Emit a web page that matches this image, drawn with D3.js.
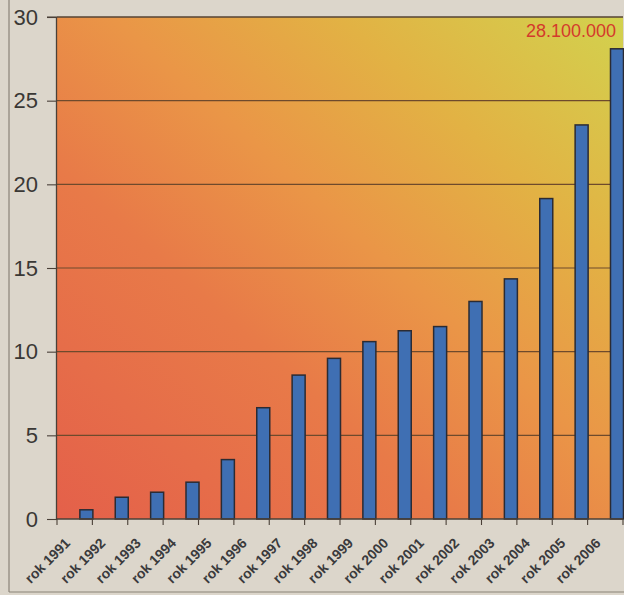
<!DOCTYPE html>
<html><head><meta charset="utf-8">
<script src="https://cdn.jsdelivr.net/npm/d3@7"></script>
<style>
html,body{margin:0;padding:0;background:#dcd6cb;}
svg{display:block;}
</style></head>
<body>
<svg id="c" width="624" height="595"></svg>
<script>
const categories = ["rok 1991","rok 1992","rok 1993","rok 1994","rok 1995","rok 1996","rok 1997","rok 1998","rok 1999","rok 2000","rok 2001","rok 2002","rok 2003","rok 2004","rok 2005","rok 2006"];
const values = [0.55, 1.3, 1.6, 2.2, 3.55, 6.65, 8.6, 9.6, 10.6, 11.25, 11.5, 13.0, 14.35, 19.15, 23.55, 28.1];
const yTicks = [0, 5, 10, 15, 20, 25, 30];
const annotation = "28.100.000";

const svg = d3.select("#c");
const W = 624, H = 595;
const m = {l: 57, t: 17, r: 1, b: 76};
const x = d3.scaleBand().domain(categories).range([m.l, W - m.r]).padding(0);
const y = d3.scaleLinear().domain([0, 30]).range([H - m.b, m.t]);

// page frame
svg.append("rect").attr("width", W).attr("height", H).attr("fill", "#dcd6cb");
svg.append("line").attr("x1", 9).attr("x2", 9).attr("y1", 0).attr("y2", 592).attr("stroke", "#8a8378").attr("stroke-width", 1.2);
svg.append("line").attr("x1", 9).attr("x2", W).attr("y1", 592).attr("y2", 592).attr("stroke", "#8a8378").attr("stroke-width", 1.2);

// gradient
const defs = svg.append("defs");
const g = defs.append("linearGradient").attr("id", "bg").attr("x1", "0").attr("y1", "1").attr("x2", "1").attr("y2", "0");
[[0, "#e4604a"], [0.35, "#e87a48"], [0.55, "#ea9647"], [0.75, "#e2b244"], [1, "#d2d24e"]].forEach(s =>
  g.append("stop").attr("offset", s[0]).attr("stop-color", s[1]));

const x0 = x.range()[0], x1 = x.range()[1];
svg.append("rect").attr("x", x0).attr("y", y(30)).attr("width", x1 - x0).attr("height", y(0) - y(30)).attr("fill", "url(#bg)");

// gridlines
svg.append("g").selectAll("line").data(yTicks.filter(d => d > 0)).join("line")
  .attr("x1", x0).attr("x2", x1).attr("y1", d => y(d)).attr("y2", d => y(d))
  .attr("stroke", "#6e4a2c").attr("stroke-width", 1.1);

// bars
const bw = 13;
svg.append("g").selectAll("rect").data(values).join("rect")
  .attr("x", (d, i) => x(categories[i]) + x.bandwidth() - bw + 0.5)
  .attr("y", d => y(d))
  .attr("width", bw)
  .attr("height", d => y(0) - y(d))
  .attr("fill", "#3f6fb3")
  .attr("stroke", "#2b2b33").attr("stroke-width", 1.5);

// y axis
const ya = svg.append("g").attr("transform", `translate(${x0},0)`)
  .call(d3.axisLeft(y).tickValues(yTicks).tickSize(10).tickPadding(9).tickFormat(d3.format("d")));
ya.select(".domain").attr("stroke", "#4a4038").attr("stroke-width", 1.3).attr("d", `M-0.5,${y(30)}V${y(0)}`);
ya.selectAll(".tick line").attr("stroke", "#4a4038").attr("stroke-width", 1.1);
ya.selectAll(".tick text").attr("font-family", "Liberation Sans, Arial, sans-serif").attr("font-size", 22).attr("fill", "#3a3835");

// x axis line and tick marks at band boundaries
svg.append("line").attr("x1", x0).attr("x2", x1).attr("y1", y(0)).attr("y2", y(0)).attr("stroke", "#4a4038").attr("stroke-width", 1.3);
const bounds = categories.map(c => x(c)).concat([x1]);
svg.append("g").selectAll("line").data(bounds).join("line")
  .attr("x1", d => d).attr("x2", d => d).attr("y1", y(0)).attr("y2", y(0) + 6)
  .attr("stroke", "#4a4038").attr("stroke-width", 1.1);

// x labels
svg.append("g").selectAll("text").data(categories).join("text")
  .attr("transform", c => `translate(${x(c) + 14},${y(0) + 25}) rotate(-45)`)
  .attr("text-anchor", "end")
  .attr("font-family", "Liberation Sans, Arial, sans-serif")
  .attr("font-weight", "bold").attr("font-size", 14)
  .attr("fill", "#3a3a3c")
  .text(d => d);

// plot top border
svg.append("line").attr("x1", x0 - 10).attr("x2", x1).attr("y1", y(30)).attr("y2", y(30)).attr("stroke", "#4a4038").attr("stroke-width", 1.2);

// annotation
svg.append("text").attr("x", 616).attr("y", y(30) + 20).attr("text-anchor", "end")
  .attr("font-family", "Liberation Sans, Arial, sans-serif").attr("font-size", 18)
  .attr("fill", "#d43a2c").text(annotation);
</script>
</body></html>
